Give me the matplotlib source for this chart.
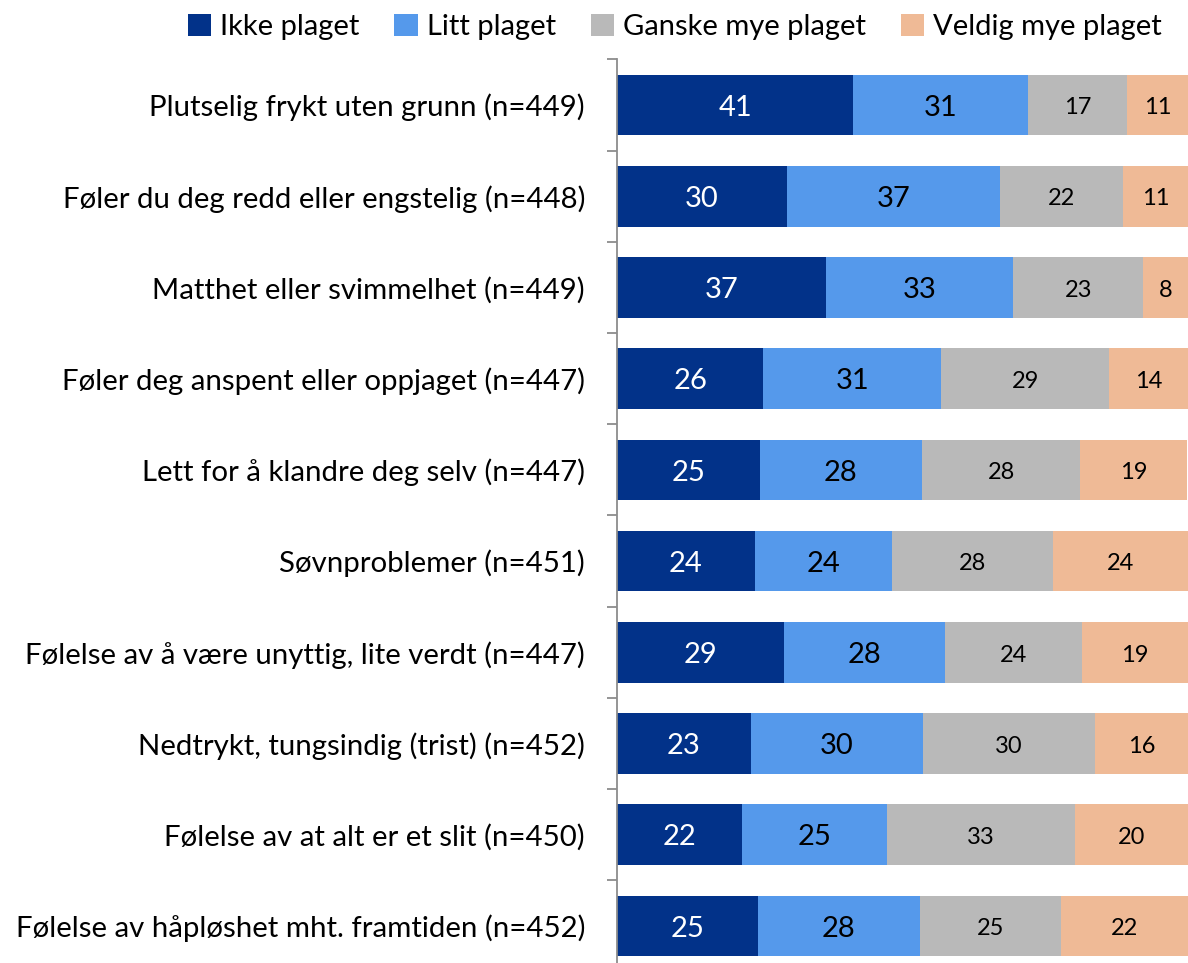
import matplotlib
matplotlib.use("Agg")
import matplotlib.pyplot as plt
import numpy as np
from matplotlib.patches import Patch

plt.rcParams['font.family'] = ['Lato', 'DejaVu Sans']

categories = [
    "Plutselig frykt uten grunn (n=449)",
    "Føler du deg redd eller engstelig (n=448)",
    "Matthet eller svimmelhet (n=449)",
    "Føler deg anspent eller oppjaget (n=447)",
    "Lett for å klandre deg selv (n=447)",
    "Søvnproblemer (n=451)",
    "Følelse av å være unyttig, lite verdt (n=447)",
    "Nedtrykt, tungsindig (trist) (n=452)",
    "Følelse av at alt er et slit (n=450)",
    "Følelse av håpløshet mht. framtiden (n=452)",
]
series_names = ["Ikke plaget", "Litt plaget", "Ganske mye plaget", "Veldig mye plaget"]
# percentages (unrounded estimates; labels show rounded values)
ikke = [41.4, 29.8, 36.6, 25.6, 25.0, 24.1, 29.2, 23.4, 21.9, 24.6]
litt = [30.6, 37.2, 32.8, 31.2, 28.4, 24.1, 28.3, 30.1, 25.4, 28.4]
ganske = [17.4, 21.7, 22.8, 29.4, 27.7, 28.1, 23.9, 30.2, 32.9, 24.7]
veldig = [10.7, 11.4, 7.8, 13.8, 18.8, 23.7, 18.6, 16.3, 19.8, 22.3]

colors = ["#023289", "#5599EB", "#B9B9B9", "#EFBA96"]
label_colors = ["white", "black", "black", "black"]
label_sizes = [21, 21, 17, 17]

fig = plt.figure(figsize=(11.88, 9.63), dpi=100)
ax = fig.add_axes([0.5194, -0.0089, 0.4806, 0.9472])

y = np.arange(len(categories))
left = np.zeros(len(categories))
for vals, name, c, lc, ls in zip([ikke, litt, ganske, veldig], series_names, colors, label_colors, label_sizes):
    vals = np.array(vals, dtype=float)
    ax.barh(y, vals, left=left, height=0.665, color=c, label=name)
    for yi, l, v in zip(y, left, vals):
        ax.text(l + v / 2, yi + 0.03, f"{v:.0f}", ha="center", va="center", color=lc, fontsize=ls)
    left += vals

ax.set_xlim(0, 100)
ax.set_ylim(len(categories) - 0.5, -0.5)
ax.set_yticks(y)
ax.set_yticklabels(categories, fontsize=21.2)
ax.set_yticks(np.arange(len(categories) + 1) - 0.5, minor=True)
ax.tick_params(axis="y", which="major", length=0, pad=23)
ax.tick_params(axis="y", which="minor", length=7, width=1.3, color="#8C8C8C", direction="out")
ax.set_xticks([])
for s in ["top", "right", "bottom"]:
    ax.spines[s].set_visible(False)
ax.spines["left"].set_color("#8C8C8C")
ax.spines["left"].set_linewidth(1.3)

handles = [Patch(facecolor=c, edgecolor="none") for c in colors]
fig.legend(handles, series_names, loc="center", bbox_to_anchor=(0.568, 0.972), ncol=4,
           frameon=False, fontsize=21, handlelength=0.8, handleheight=0.8,
           handletextpad=0.3, columnspacing=1.2)

fig.savefig("out.png", dpi=100)
